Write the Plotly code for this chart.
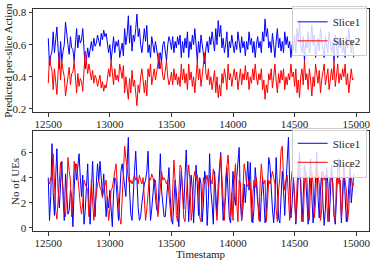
import plotly.graph_objects as go

timestamps = list(range(12500, 14990, 10))

s1_action = [
    0.64, 0.47, 0.53, 0.56, 0.68, 0.55, 0.63, 0.71, 0.57, 0.45,
    0.62, 0.50, 0.56, 0.60, 0.74, 0.64, 0.60, 0.54, 0.65, 0.58,
    0.57, 0.50, 0.63, 0.70, 0.58, 0.66, 0.61, 0.63, 0.70, 0.54,
    0.45, 0.51, 0.58, 0.52, 0.57, 0.62, 0.56, 0.64, 0.59, 0.61,
    0.66, 0.61, 0.59, 0.67, 0.63, 0.69, 0.65, 0.67, 0.61, 0.55,
    0.60, 0.50, 0.57, 0.65, 0.55, 0.62, 0.59, 0.63, 0.52, 0.58,
    0.61, 0.53, 0.70, 0.60, 0.66, 0.78, 0.61, 0.72, 0.56, 0.66,
    0.62, 0.70, 0.79, 0.65, 0.70, 0.60, 0.55, 0.62, 0.70, 0.62,
    0.72, 0.55, 0.60, 0.52, 0.65, 0.60, 0.55, 0.62, 0.58, 0.52,
    0.45, 0.55, 0.50, 0.60, 0.62, 0.55, 0.50, 0.60, 0.65, 0.62,
    0.57, 0.65, 0.55, 0.62, 0.58, 0.65, 0.60, 0.66, 0.52, 0.62,
    0.55, 0.64, 0.58, 0.68, 0.52, 0.62, 0.57, 0.66, 0.60, 0.70,
    0.58, 0.50, 0.62, 0.55, 0.66, 0.60, 0.52, 0.48, 0.58, 0.62,
    0.55, 0.65, 0.60, 0.68, 0.62, 0.56, 0.70, 0.60, 0.75, 0.65,
    0.72, 0.58, 0.64, 0.55, 0.60, 0.68, 0.52, 0.62, 0.58, 0.66,
    0.60, 0.55, 0.62, 0.57, 0.68, 0.62, 0.55, 0.65, 0.58, 0.62,
    0.53, 0.62, 0.57, 0.68, 0.60, 0.64, 0.55, 0.62, 0.52, 0.60,
    0.65, 0.58, 0.62, 0.55, 0.68, 0.62, 0.76, 0.65, 0.70, 0.58,
    0.62, 0.55, 0.67, 0.60, 0.52, 0.62, 0.70, 0.58, 0.64, 0.56,
    0.62, 0.55, 0.68, 0.60, 0.65, 0.58, 0.62, 0.52, 0.60, 0.57,
    0.66, 0.55, 0.70, 0.62, 0.74, 0.60, 0.55, 0.65, 0.50, 0.62,
    0.58, 0.68, 0.55, 0.62, 0.72, 0.60, 0.66, 0.52, 0.60, 0.64,
    0.56, 0.70, 0.62, 0.58, 0.52, 0.65, 0.60, 0.55, 0.68, 0.62,
    0.55, 0.62, 0.50, 0.66, 0.58, 0.52, 0.64, 0.58, 0.62, 0.55,
    0.60, 0.52, 0.65, 0.58, 0.70, 0.60, 0.55, 0.62, 0.52,
]

s2_action = [
    0.36, 0.53, 0.47, 0.44, 0.32, 0.45, 0.37, 0.29, 0.43, 0.55,
    0.38, 0.50, 0.44, 0.40, 0.28, 0.36, 0.40, 0.46, 0.35, 0.42,
    0.43, 0.50, 0.37, 0.30, 0.42, 0.34, 0.39, 0.37, 0.31, 0.46,
    0.56, 0.49, 0.42, 0.48, 0.43, 0.38, 0.44, 0.36, 0.41, 0.39,
    0.34, 0.39, 0.41, 0.33, 0.37, 0.31, 0.35, 0.33, 0.39, 0.45,
    0.40, 0.50, 0.43, 0.35, 0.45, 0.38, 0.41, 0.37, 0.48, 0.42,
    0.39, 0.47, 0.30, 0.40, 0.34, 0.26, 0.39, 0.30, 0.44, 0.34,
    0.38, 0.30, 0.22, 0.35, 0.30, 0.40, 0.45, 0.38, 0.30, 0.38,
    0.28, 0.45, 0.40, 0.48, 0.35, 0.40, 0.45, 0.38, 0.42, 0.48,
    0.55, 0.45, 0.50, 0.40, 0.38, 0.45, 0.50, 0.40, 0.35, 0.38,
    0.43, 0.35, 0.45, 0.38, 0.42, 0.35, 0.40, 0.34, 0.48, 0.38,
    0.45, 0.36, 0.42, 0.32, 0.48, 0.38, 0.43, 0.34, 0.40, 0.30,
    0.42, 0.50, 0.38, 0.45, 0.34, 0.40, 0.48, 0.55, 0.42, 0.38,
    0.45, 0.35, 0.40, 0.32, 0.38, 0.44, 0.30, 0.40, 0.27, 0.35,
    0.28, 0.42, 0.36, 0.45, 0.40, 0.32, 0.48, 0.38, 0.42, 0.34,
    0.40, 0.45, 0.38, 0.43, 0.32, 0.38, 0.45, 0.35, 0.42, 0.38,
    0.47, 0.38, 0.43, 0.32, 0.40, 0.36, 0.45, 0.38, 0.48, 0.40,
    0.35, 0.42, 0.38, 0.45, 0.32, 0.38, 0.26, 0.35, 0.30, 0.42,
    0.38, 0.45, 0.33, 0.40, 0.48, 0.38, 0.30, 0.42, 0.36, 0.44,
    0.38, 0.45, 0.32, 0.40, 0.35, 0.42, 0.38, 0.48, 0.40, 0.43,
    0.34, 0.45, 0.30, 0.38, 0.27, 0.40, 0.45, 0.35, 0.50, 0.38,
    0.42, 0.32, 0.45, 0.38, 0.28, 0.40, 0.34, 0.48, 0.40, 0.36,
    0.44, 0.30, 0.38, 0.42, 0.48, 0.35, 0.40, 0.45, 0.32, 0.38,
    0.45, 0.38, 0.50, 0.34, 0.42, 0.48, 0.36, 0.42, 0.38, 0.45,
    0.40, 0.48, 0.35, 0.42, 0.30, 0.40, 0.45, 0.38, 0.39,
]

s1_ues = [
    4.0, 0.6, 2.5, 6.7, 2.8, 1.0, 4.0, 6.3, 3.0, 1.6,
    3.5, 5.3, 2.5, 0.6, 4.3, 2.8, 1.1, 1.4, 3.0, 2.5,
    0.1, 3.0, 5.1, 3.8, 4.8, 5.9, 4.0, 2.5, 4.2, 0.3,
    1.4, 3.5, 5.1, 2.0, 0.3, 3.0, 5.3, 2.5, 0.9, 3.5,
    5.1, 3.8, 5.3, 4.0, 2.5, 4.3, 2.0, 0.9, 2.5, 1.6,
    3.0, 1.6, 0.1, 2.7, 4.0, 3.8, 1.8, 0.6, 2.5, 4.5,
    5.1, 4.2, 3.8, 2.5, 5.0, 7.2, 3.0, 1.1, 0.6, 3.0,
    4.5, 6.1, 3.5, 1.6, 0.6, 0.9, 2.0, 2.8, 3.5, 3.8,
    4.5, 6.1, 2.4, 0.6, 1.5, 3.0, 3.9, 2.5, 1.5, 1.2,
    3.5, 5.9, 3.0, 1.6, 0.9, 0.9, 2.5, 3.8, 4.8, 2.5,
    0.8, 0.3, 1.8, 3.8, 2.8, 1.0, 0.1, 2.5, 4.5, 3.2,
    1.5, 4.0, 6.2, 3.5, 0.5, 2.8, 4.2, 3.0, 0.4, 2.5,
    5.0, 3.5, 1.0, 4.0, 3.5, 0.5, 2.0, 4.5, 3.8, 0.2,
    2.2, 5.9, 3.0, 1.9, 0.3, 4.5, 3.0, 1.0, 3.5, 5.0,
    6.0, 3.0, 0.6, 1.5, 2.5, 4.8, 2.0, 0.8, 0.4, 3.0,
    4.5, 2.5, 1.8, 4.0, 5.0, 6.4, 2.0, 0.6, 1.5, 3.5,
    2.0, 4.0, 5.3, 3.0, 5.2, 2.0, 0.4, 1.5, 4.8, 3.5,
    2.0, 1.5, 0.5, 2.5, 4.0, 2.5, 0.4, 1.2, 3.5, 5.6,
    5.0, 3.0, 1.5, 0.4, 2.0, 5.6, 3.0, 0.8, 0.4, 2.5,
    4.5, 3.0, 1.0, 3.5, 5.0, 7.2, 3.5, 0.8, 2.0, 4.0,
    2.5, 0.3, 2.0, 4.5, 6.0, 3.0, 0.5, 2.5, 5.0, 4.0,
    1.5, 0.3, 3.5, 5.5, 2.5, 0.4, 1.8, 4.0, 6.0, 2.5,
    0.8, 3.0, 4.5, 2.0, 0.2, 1.5, 4.8, 3.5, 0.5, 2.5,
    5.0, 3.5, 1.0, 0.3, 2.5, 4.5, 5.5, 2.0, 0.4, 3.0,
    5.0, 2.5, 0.5, 1.5, 4.0, 5.0, 2.0, 3.0, 4.3,
]

s2_ues = [
    3.7, 3.5, 4.0, 3.8, 5.9, 3.0, 1.4, 0.7, 2.5, 4.3,
    5.2, 4.0, 3.2, 1.5, 0.9, 3.0, 5.6, 4.5, 3.8, 0.9,
    2.5, 5.3, 4.5, 5.1, 4.2, 3.0, 1.8, 1.1, 2.0, 3.8,
    3.5, 3.3, 3.0, 0.9, 2.0, 3.8, 2.5, 0.6, 1.8, 3.0,
    3.5, 3.8, 3.2, 3.0, 2.4, 3.0, 3.5, 3.8, 2.0, 0.6,
    1.5, 3.0, 3.2, 3.8, 4.5, 5.1, 3.5, 1.6, 0.8, 0.3,
    2.5, 4.0, 6.5, 5.5, 4.5, 4.0, 3.5, 3.8, 3.5, 4.0,
    4.2, 3.8, 4.0, 3.5, 4.2, 3.8, 3.5, 4.0, 2.4, 0.6,
    1.5, 3.0, 4.0, 3.8, 4.3, 4.0, 3.5, 3.8, 2.0, 0.9,
    2.0, 3.5, 4.5, 3.8, 4.0, 3.8, 3.5, 3.8, 2.4, 1.5,
    0.5, 3.0, 5.4, 3.8, 1.0, 0.5, 3.5, 5.0, 4.8, 3.0,
    0.8, 0.5, 2.5, 4.0, 5.0, 3.8, 0.6, 1.5, 4.0, 4.5,
    3.8, 4.2, 3.5, 0.8, 0.5, 3.0, 4.0, 3.5, 3.8, 4.2,
    3.3, 4.2, 3.8, 3.5, 4.7, 4.0, 1.8, 0.6, 2.5, 4.0,
    5.8, 4.0, 2.0, 0.6, 4.0, 5.0, 5.8, 4.0, 1.0, 2.8,
    0.6, 3.8, 5.1, 2.0, 0.5, 3.8, 3.5, 0.6, 3.0, 5.1,
    4.5, 3.5, 3.3, 3.8, 3.5, 0.5, 2.5, 3.8, 3.2, 4.0,
    2.5, 0.6, 3.5, 5.1, 3.8, 3.5, 3.8, 0.5, 2.0, 3.8,
    3.5, 4.0, 4.5, 4.0, 3.5, 1.5, 0.5, 3.0, 4.0, 6.2,
    6.5, 4.0, 3.0, 3.8, 4.2, 2.5, 0.6, 3.5, 4.5, 4.0,
    2.0, 0.5, 3.5, 5.0, 4.0, 3.8, 1.0, 0.5, 3.5, 4.5,
    4.0, 1.0, 0.6, 3.8, 4.5, 3.5, 0.8, 2.0, 4.8, 4.0,
    3.5, 0.6, 1.5, 4.5, 3.8, 4.2, 2.0, 0.5, 3.0, 4.3,
    4.0, 3.5, 1.0, 0.6, 3.8, 4.2, 3.5, 3.8, 0.8, 2.0,
    4.5, 3.5, 3.0, 0.5, 1.5, 3.8, 4.0, 3.2, 3.6,
]

x_ticks = [12500, 13000, 13500, 14000, 14500, 15000]
x_ticktext = ["12500", "13000", "13500", "14000", "14500", "15000"]
y1_ticks = [0.2, 0.4, 0.6, 0.8]
y1_ticktext = ["0.2", "0.4", "0.6", "0.8"]
y2_ticks = [0, 2, 4, 6]
y2_ticktext = ["0", "2", "4", "6"]
series_names = ["Slice1", "Slice2"]
colors = ["#0000ff", "#ff0000"]

FONT = "Liberation Serif, Times New Roman, serif"
TXT = "#222222"

fig = go.Figure()
for name, col, ys in zip(series_names, colors, [s1_action, s2_action]):
    fig.add_trace(go.Scatter(x=timestamps, y=ys, mode="lines", name=name,
                             line=dict(color=col, width=1),
                             xaxis="x", yaxis="y", legend="legend"))
for name, col, ys in zip(series_names, colors, [s1_ues, s2_ues]):
    fig.add_trace(go.Scatter(x=timestamps, y=ys, mode="lines", name=name,
                             line=dict(color=col, width=1),
                             xaxis="x2", yaxis="y2", legend="legend2"))

axis_common = dict(showline=True, mirror=True, linecolor="#333333", linewidth=1,
                   ticks="outside", ticklen=3.5, tickwidth=1, tickcolor="#333333",
                   showgrid=False, zeroline=False, automargin=False,
                   tickfont=dict(family=FONT, size=11, color=TXT))

legend_common = dict(x=0.993, xanchor="right", yanchor="top",
                     bgcolor="rgba(255,255,255,0.8)", bordercolor="#cccccc",
                     borderwidth=1, font=dict(family=FONT, size=11, color=TXT),
                     itemwidth=30, tracegroupgap=0)

fig.update_layout(
    width=374, height=262,
    margin=dict(l=33, r=5, t=9, b=31),
    paper_bgcolor="white", plot_bgcolor="white",
    font=dict(family=FONT, size=11, color=TXT),
    xaxis=dict(domain=[0, 1], anchor="y", range=[12376, 15104],
               tickvals=x_ticks, ticktext=x_ticktext, ticklabelstandoff=-2,
               **axis_common),
    yaxis=dict(domain=[0.536, 1], anchor="x", range=[0.181, 0.822],
               tickvals=y1_ticks, ticktext=y1_ticktext, **axis_common),
    xaxis2=dict(domain=[0, 1], anchor="y2", range=[12376, 15104],
                tickvals=x_ticks, ticktext=x_ticktext, ticklabelstandoff=-2,
                **axis_common),
    yaxis2=dict(domain=[0, 0.45], anchor="x2", range=[-0.24, 7.7],
                tickvals=y2_ticks, ticktext=y2_ticktext, **axis_common),
    legend=dict(y=1.012, **legend_common),
    legend2=dict(y=0.465, **legend_common),
    showlegend=True,
    annotations=[
        dict(text="Predicted per-slice Action", xref="paper", yref="paper",
             x=-0.077, y=0.768, textangle=-90, showarrow=False,
             xanchor="center", yanchor="middle",
             font=dict(family=FONT, size=11, color=TXT)),
        dict(text="No of UEs", xref="paper", yref="paper",
             x=-0.054, y=0.225, textangle=-90, showarrow=False,
             xanchor="center", yanchor="middle",
             font=dict(family=FONT, size=11, color=TXT)),
        dict(text="Timestamp", xref="paper", yref="paper",
             x=0.5, y=-0.104, showarrow=False,
             xanchor="center", yanchor="middle",
             font=dict(family=FONT, size=11, color=TXT)),
    ],
)

fig.write_html("out.html", config={"displayModeBar": False},
               post_script="document.body.style.margin='0';document.body.style.overflow='hidden';")
